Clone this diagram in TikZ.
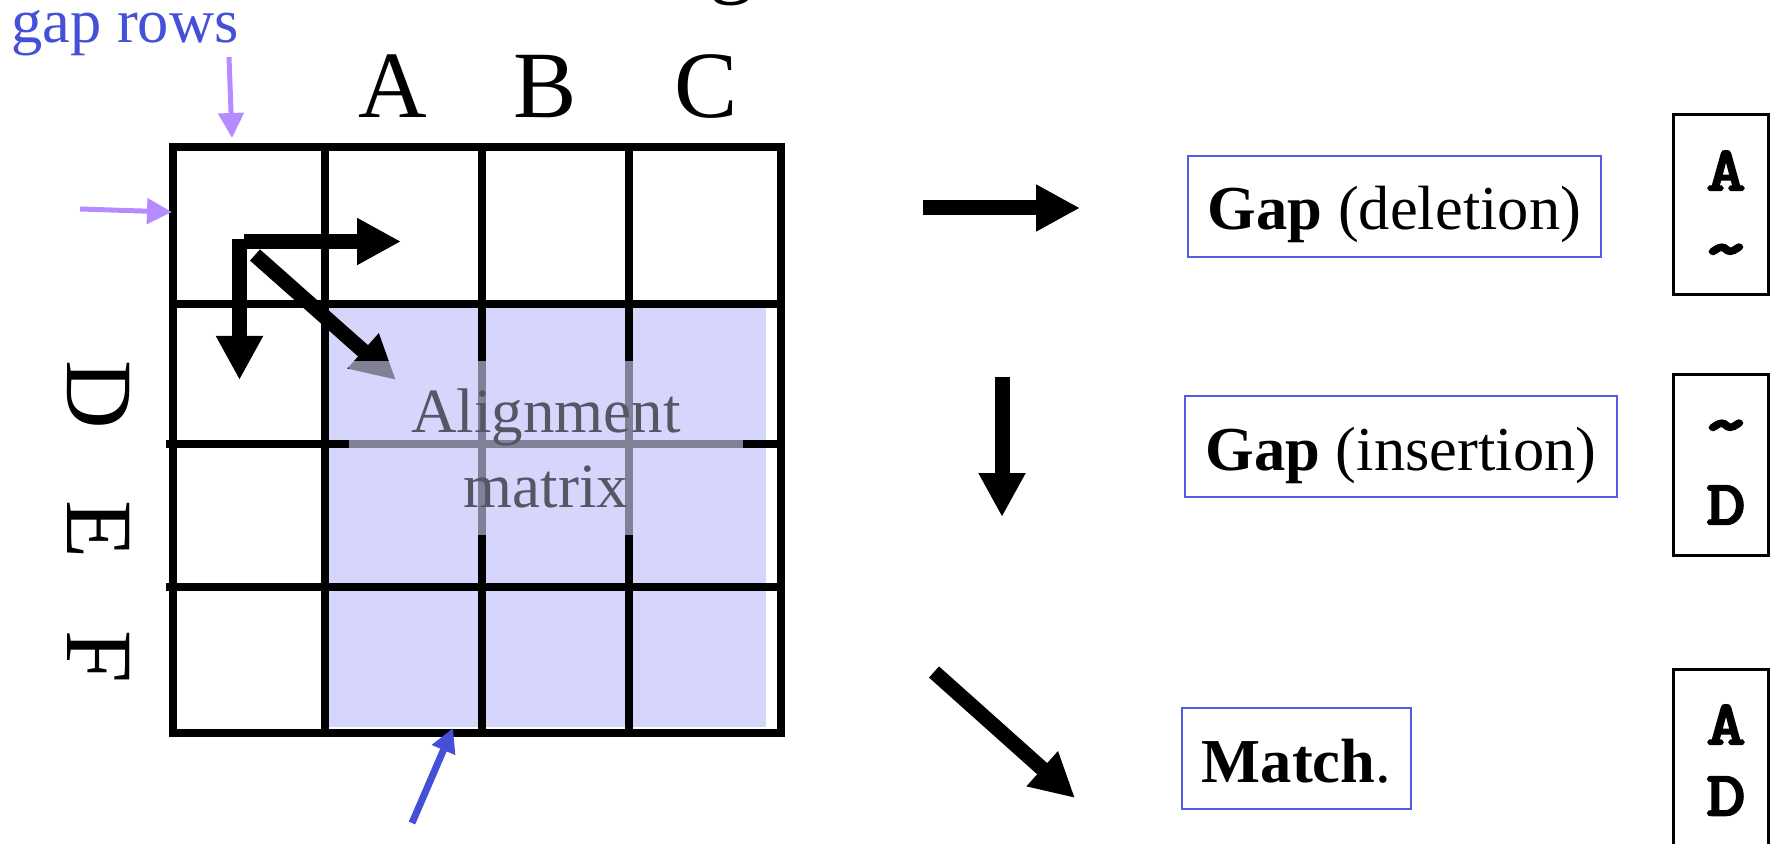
\documentclass[tikz,border=0pt]{standalone}
\usepackage{fontspec}
\usepackage{graphicx}
\setmainfont{Liberation Serif}
\newfontfamily\pairmono{Latin Modern Mono}[FakeBold=4]
\usetikzlibrary{arrows.meta}

\definecolor{lav}{RGB}{214,214,252}
\definecolor{gappurple}{RGB}{180,140,255}
\definecolor{hintblue}{RGB}{68,80,216}
\definecolor{boxblue}{RGB}{80,92,228}
\definecolor{labelgray}{RGB}{86,86,101}

\newcommand{\pairglyph}[1]{\scalebox{1.2}[1]{#1}}
\newcommand{\pairtilde}{\scalebox{1.45}[1.2]{\textasciitilde}}

\begin{document}
\begin{tikzpicture}[x=0.5pt, y=-0.5pt,
  gridline/.style={line width=4pt},
  movearrow/.style={line width=7.5pt, line cap=butt, -{Triangle[length=22pt,width=22pt]}},
  gaparrow/.style={draw=gappurple, line width=2.5pt, -{Triangle[length=12.5pt,width=12.5pt]}},
  hintarrow/.style={draw=hintblue, line width=3.5pt, -{Triangle[length=12pt,width=12pt]}},
  seqletter/.style={inner sep=0pt, font=\fontsize{47.5pt}{50pt}\selectfont},
  movebox/.style={draw=boxblue, line width=1pt, inner sep=0pt, text height=37pt,
    text depth=13.5pt, font=\fontsize{31.25pt}{37.5pt}\selectfont},
  pairbox/.style={draw=black, line width=1.5pt, minimum width=47.5pt,
    minimum height=90pt, inner sep=0pt},
  pairchar/.style={inner sep=0pt, anchor=base,
    font=\pairmono\fontsize{31pt}{31pt}\selectfont}
]
\useasboundingbox (0,0) rectangle (1771,844);
\clip (0,0) rectangle (1771,844);

% descender of the heading above
\node[inner sep=0pt, anchor=base, font=\fontsize{45pt}{45pt}\selectfont] (heading) at (732,-13) {g};

% shaded cells of the alignment matrix
\fill[lav] (329,308) rectangle (766,727);

% grid
\draw[gridline] (173,147) rectangle (781,733);
\foreach \x in {325,482,629} \draw[gridline] (\x,147) -- (\x,733);
\draw[gridline] (173,304) -- (781,304);
\draw[gridline] (166,444) -- (781,444);
\draw[gridline] (166,587) -- (781,587);

% sequence letters
\node[seqletter, anchor=base] (cA) at (393,118) {A};
\node[seqletter, anchor=base] (cB) at (545,118) {B};
\node[seqletter, anchor=base] (cC) at (706,118) {C};
\node[seqletter, anchor=base, rotate=-90] (rD) at (67,395) {D};
\node[seqletter, anchor=base, rotate=-90] (rE) at (67,530) {E};
\node[seqletter, anchor=base, rotate=-90] (rF) at (67,657) {F};

% moves inside the matrix
\coordinate (mR0) at (244,241.5);
\coordinate (mR1) at (401,241.5);
\coordinate (mD0) at (239.5,239);
\coordinate (mD1) at (239.5,380);
\coordinate (mG0) at (255,255);
\coordinate (mG1) at (396,380);
\draw[movearrow] (mR0) -- (mR1);
\draw[movearrow] (mD0) -- (mD1);
\draw[movearrow] (mG0) -- (mG1);

% translucent label over the matrix
\node[fill=lav, fill opacity=0.6, text opacity=1, text=labelgray,
  minimum width=197pt, minimum height=87pt, inner sep=0pt, align=center,
  font=\fontsize{31.5pt}{37.5pt}\selectfont] (amat) at (546,448) {Alignment\\matrix};

% gap rows annotation
\node[inner sep=0pt, anchor=base, text=hintblue, font=\fontsize{31.25pt}{37.5pt}\selectfont]
  (gaprows) at (125,43) {gap rows};
\coordinate (gv0) at (229,57);
\coordinate (gv1) at (232,138);
\coordinate (gh0) at (80,209);
\coordinate (gh1) at (172,212);
\draw[gaparrow] (gv0) -- (gv1);
\draw[gaparrow] (gh0) -- (gh1);

% pointer to the shaded cells
\coordinate (hp0) at (412,823);
\coordinate (hp1) at (453,728);
\draw[hintarrow] (hp0) -- (hp1);

% the three moves, larger
\coordinate (sR0) at (923,208);
\coordinate (sR1) at (1080,208);
\coordinate (sD0) at (1002,377);
\coordinate (sD1) at (1002,517);
\coordinate (sG0) at (934,672);
\coordinate (sG1) at (1075,798);
\draw[movearrow] (sR0) -- (sR1);
\draw[movearrow] (sD0) -- (sD1);
\draw[movearrow] (sG0) -- (sG1);

% move names
\node[movebox, minimum width=206.5pt, anchor=base] (del) at (1394.5,230) {\textbf{Gap} (deletion)};
\node[movebox, minimum width=216pt, anchor=base] (ins) at (1401,470) {\textbf{Gap} (insertion)};
\node[movebox, minimum width=114.5pt, anchor=base] (mat) at (1296.5,782) {\textbf{Match}.};

% resulting aligned pairs
\node[pairbox] (p1) at (1721,205) {};
\node[pairbox] (p2) at (1721,465) {};
\node[pairbox] (p3) at (1721,759) {};
\node[pairchar] (p1a) at (1726,190) {\pairglyph{A}};
\node[pairchar] (p1b) at (1726,272) {\pairtilde};
\node[pairchar] (p2a) at (1726,448) {\pairtilde};
\node[pairchar] (p2b) at (1726,524) {\pairglyph{D}};
\node[pairchar] (p3a) at (1726,744) {\pairglyph{A}};
\node[pairchar] (p3b) at (1726,815) {\pairglyph{D}};
\end{tikzpicture}
\end{document}
